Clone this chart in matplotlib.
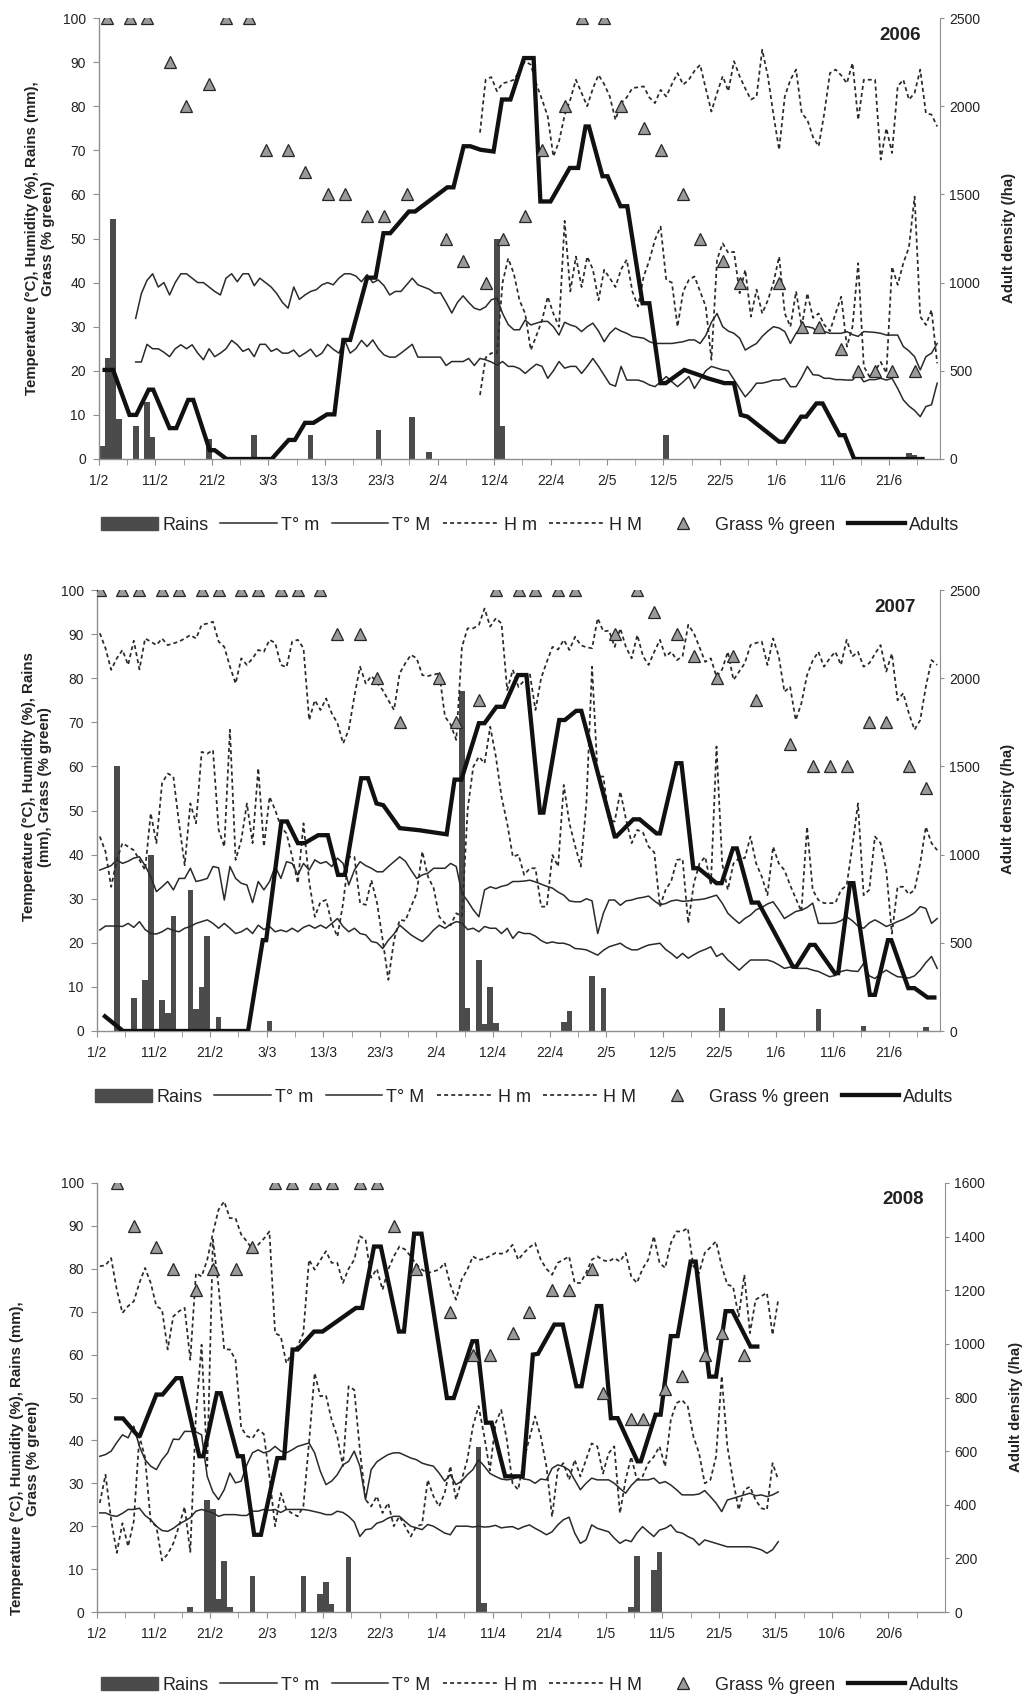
import numpy as np
import matplotlib
matplotlib.use('Agg')
import matplotlib.pyplot as plt
from matplotlib.lines import Line2D
from matplotlib.patches import Patch

plt.rcParams['font.family'] = ['Liberation Sans', 'DejaVu Sans']

# ---------------- data (days counted from 1 Feb) ----------------
XLAB_0607 = ['1/2', '11/2', '21/2', '3/3', '13/3', '23/3', '2/4', '12/4', '22/4',
             '2/5', '12/5', '22/5', '1/6', '11/6', '21/6']
XLAB_08 = ['1/2', '11/2', '21/2', '2/3', '12/3', '22/3', '1/4', '11/4', '21/4',
           '1/5', '11/5', '21/5', '31/5', '10/6', '20/6']

# 2006
rain06_day = [0, 1, 2, 3, 6, 8, 9, 19, 27, 37, 49, 55, 58, 70, 71, 100, 141, 143, 144, 145]
rain06_mm = [3, 23, 54.5, 9, 7.5, 13, 5, 4.5, 5.5, 5.5, 6.5, 9.5, 1.5, 50, 7.5, 5.4, 0.5, 1.3, 1.0, 0.3]
t06_start = 6
tmin06 = [22, 22, 26, 25, 25, 24.2, 23.2, 25, 25.9, 25,
          25.9, 24, 22.5, 25, 23.2, 24, 25, 26.9, 25.9, 24.4,
          25, 23.2, 26, 26, 24.4, 25, 24, 24, 24.7, 23.2,
          24, 24.9, 23.2, 24, 26, 24.9, 24, 27, 24, 25,
          26.9, 25.5, 27, 25, 23.6, 23.1, 23.1, 24, 25, 26,
          23.1, 23.1, 23.1, 23.1, 23.1, 21.2, 22.1, 22.1, 22.1, 22.8,
          21.2, 22.8, 22.5, 22, 21.3, 22.1, 21, 21, 20.5, 19.4,
          20.5, 21.5, 21, 18.3, 20, 22.1, 20.6, 21, 21, 19.4,
          21, 22.8, 21, 19, 17, 16.5, 21, 17.9, 17.9, 17.9,
          17.5, 16.8, 16.4, 17.5, 18.7, 17.5, 16.4, 17.5, 18.7, 16,
          18, 20, 21, 20.6, 20.2, 20, 18, 16, 14.1, 15.5,
          17.2, 17.2, 17.5, 17.9, 17.9, 18.3, 16.4, 16.4, 18.5, 21,
          19.1, 19, 18.3, 18.3, 18, 18, 17.9, 17.9, 19.4, 17.5,
          18, 18, 18.3, 17.9, 18.3, 16, 13.4, 12, 11, 9.6,
          11.9, 12.3, 17.2]
tmax06 = [31.9, 37.5, 40.5, 42, 39, 40, 37.2, 40, 42, 42,
          41, 40, 40, 39, 38, 37.2, 41, 42, 40.2, 42,
          42, 39.3, 41, 40, 39, 37.5, 35.5, 34.2, 39, 36.2,
          37.2, 38, 38.4, 39.5, 40, 39.5, 41, 42, 42, 41.5,
          40.2, 41.8, 40, 40.6, 39.3, 37.2, 38, 38, 39.5, 41,
          39.5, 39, 38.5, 37.6, 37.7, 35.5, 33.1, 35.5, 37, 35.5,
          34.2, 33.8, 34.5, 36.1, 36.5, 33, 30.5, 29.3, 29.3, 31.5,
          30.4, 30.8, 31.2, 31.2, 30, 28.1, 31, 30.4, 30, 28.9,
          30, 30.8, 29, 26.6, 28.5, 29.7, 29, 28.5, 27.8, 27.6,
          27.4, 26.6, 26.2, 26.2, 26.2, 26.2, 26.4, 26.6, 27, 27,
          26.2, 28, 31, 33, 30, 29, 28.5, 27.4, 24.7, 25.5,
          26.2, 27.8, 29, 30, 29.7, 28.9, 26.2, 28.5, 30, 30,
          29.7, 28.5, 28.9, 28.5, 28.5, 28.5, 28.9, 28.2, 27.8, 28.9,
          28.8, 28.7, 28.5, 28.1, 28.1, 28.1, 25.5, 24.5, 23.2, 20.2,
          23.2, 24, 26.2]
h06_start = 67
hmin06 = [14.5, 23, 24, 24, 40, 45.5, 42, 36, 33, 24.7,
          28, 31.5, 36.8, 33, 30, 54, 38, 45.9, 39, 45.9,
          43, 36, 42.9, 41, 39, 43, 45.2, 38, 34.6, 41.4,
          45, 49.7, 52.7, 40.6, 40, 30, 38, 40.6, 41.4, 38,
          34.6, 22.5, 45.2, 48.9, 46.7, 47, 37.6, 42.9, 32.3, 38.4,
          33, 36, 40, 45.9, 33, 30, 38, 30, 37.6, 32,
          33, 30.4, 29, 33, 36.8, 25.5, 30, 44.4, 21, 18.7,
          20, 22, 19.5, 43.6, 39.5, 44.4, 48, 59.5, 32.3, 30.4,
          33.8, 21.7]
hmax06 = [74, 86, 86.6, 83.4, 85.2, 85.5, 86, 88, 90.2, 89.4,
          85, 81.5, 77.7, 68.6, 72, 78, 81.5, 86, 83, 80,
          84, 87.1, 85, 82.2, 76.9, 80.7, 82, 84.1, 84.3, 84.5,
          82, 80.7, 83.7, 82.2, 85, 87.5, 84.9, 86, 88, 89.4,
          84, 78.8, 83, 86.8, 83.4, 90.2, 86.8, 84, 81.5, 82.2,
          92.8, 86.8, 78, 70.1, 82.2, 86, 88.3, 78.4, 76.9, 73,
          70.9, 78.4, 87.5, 88.3, 87, 85.2, 89.8, 76.9, 86, 86,
          86, 67.9, 75, 69.4, 84.5, 86, 81.5, 83, 88.3, 78.4,
          78.1, 75.4]
grass06_day = [1, 5, 8, 12, 15, 19, 22, 26, 29, 33, 36, 40, 43, 47, 50, 54, 61, 64, 68, 71,
               75, 78, 82, 85, 89, 92, 96, 99, 103, 106, 110, 113, 120, 124, 127, 131, 134, 137, 140, 144]
grass06 = [100, 100, 100, 90, 80, 85, 100, 100, 70, 70, 65, 60, 60, 55, 55, 60, 50, 45, 40, 50,
           55, 70, 80, 100, 100, 80, 75, 70, 60, 50, 45, 40, 40, 30, 30, 25, 20, 20, 20, 20]
adult06_x = [1.0, 2.5, 5.4, 6.6, 8.8, 9.6, 12.5, 13.7, 15.8, 16.7,
             19.6, 20.5, 22.6, 30.6, 33.6, 34.7, 36.5, 38.0, 40.4, 41.7,
             43.3, 44.5, 47.5, 49.0, 50.4, 51.6, 54.9, 56.0, 61.7, 62.8,
             64.6, 65.8, 67.6, 69.9, 71.4, 72.9, 75.3, 77.0, 78.2, 80.0,
             83.4, 84.9, 86.2, 86.8, 89.2, 90.1, 92.4, 93.6, 96.3, 97.5,
             99.5, 100.4, 103.7, 106.6, 107.8, 110.8, 112.5, 113.7, 114.9, 120.5,
             121.4, 124.4, 125.3, 127.1, 128.2, 131.2, 132.1, 133.8, 145.9]
adult06 = [505, 505, 250, 250, 393, 393, 175, 175, 335, 335,
           50, 50, 0, 0, 108, 108, 205, 205, 253, 253,
           675, 675, 1028, 1028, 1280, 1280, 1403, 1403, 1540, 1540,
           1773, 1773, 1753, 1743, 2038, 2038, 2273, 2273, 1460, 1460,
           1650, 1650, 1885, 1885, 1603, 1603, 1433, 1433, 883, 883,
           430, 430, 505, 473, 458, 430, 430, 250, 240, 98,
           98, 240, 240, 315, 315, 135, 135, 0, 0]

# 2007
rain07_day = [3, 6, 8, 9, 11, 12, 13, 16, 17, 18, 19, 21, 30, 64, 65, 67, 68, 69, 70,
              82, 83, 87, 89, 110, 127, 135, 146]
rain07_mm = [60, 7.5, 11.5, 40, 7, 4, 26, 32, 5, 10, 21.5, 3.2, 2.2, 77, 5.3, 16, 1.5, 10, 1.8,
             2, 4.5, 12.5, 9.7, 5.2, 5, 1.2, 0.8]
t07_start = 0
tmin07 = [22.9, 23.8, 23.8, 23.8, 23.7, 24.4, 23.5, 24.8, 23, 22.1,
          22, 22.5, 23.3, 22.8, 22.5, 23.3, 23.7, 24.4, 24.8, 25.2,
          24.4, 23.3, 24.4, 23.3, 22.1, 22.5, 23.3, 22.1, 24, 23,
          23.7, 22.5, 22.9, 22.5, 23.3, 22.5, 23.5, 24, 23.3, 24,
          23.3, 24.4, 25.5, 23.7, 22.5, 23.3, 22.1, 21.8, 20.3, 20,
          18.7, 20.6, 22, 24, 22.9, 21.8, 21, 20.3, 21.5, 22.9,
          24, 23.3, 24.2, 24.8, 24.5, 23, 23.3, 22.5, 23.7, 23.3,
          23.3, 22.1, 23.3, 21, 22.5, 22.1, 22.1, 21.5, 20.5, 19.9,
          20.2, 19.9, 19.9, 19.5, 18.7, 18.6, 18.4, 17.8, 17.2, 18.3,
          19.1, 19.5, 19.9, 19, 18.4, 18.4, 19, 19.5, 19.7, 19.9,
          18.5, 17.6, 16.5, 17.6, 16.5, 17.3, 18, 18.5, 19.1, 16.9,
          17.6, 16.1, 15, 13.8, 15, 16.1, 16.1, 16.1, 16.1, 15.7,
          15, 14.2, 14.5, 14.2, 14.2, 14.2, 13.8, 13.5, 12.9, 12.3,
          12.6, 13.5, 13.8, 13.6, 13.5, 15.3, 12.5, 11.9, 13, 13.8,
          13, 12.3, 12.2, 12, 12.5, 13.8, 15.5, 16.9, 14.2]
tmax07 = [36.5, 37, 37.5, 38.8, 38, 38.5, 39.2, 39.5, 37.5, 35,
          31.6, 32.7, 33.9, 32, 34.6, 34.6, 36.9, 33.9, 34.2, 34.6,
          37.3, 37, 29.7, 37.3, 34.6, 33.5, 33.1, 29.1, 33.9, 32,
          33.9, 37.3, 34.6, 38.4, 38, 35.4, 38, 36.5, 38.8, 38,
          38.4, 37.3, 39.2, 38, 33.1, 36.5, 38.4, 37.5, 36.9, 36.1,
          36.1, 37.3, 38.4, 39.5, 38.5, 36.5, 34.6, 35.4, 35.8, 36.9,
          36.9, 36.9, 38, 37.3, 31.2, 29.5, 27.5, 25.9, 32, 32.7,
          32.3, 32.8, 33.1, 33.9, 33.9, 34, 34.2, 33.8, 33.3, 32.8,
          32.4, 31.5, 30.8, 29.5, 29.3, 29.3, 30, 29.5, 22.1, 26.7,
          29.7, 29.7, 28.5, 29.5, 29.7, 30.1, 30.3, 30.6, 29.5, 28.6,
          28.9, 29.5, 29.7, 29.4, 29.5, 29.7, 29.8, 30, 30.4, 30.8,
          29, 26.7, 25.5, 24.4, 25.5, 26.3, 27.5, 28, 28.8, 29.3,
          27.5, 25.5, 26.3, 27.1, 27.4, 28, 29, 24.4, 24.4, 24.4,
          24.5, 25, 25.9, 25, 23.8, 23.3, 24.5, 25.2, 24.5, 23.7,
          24.2, 24.8, 25.3, 26, 26.8, 28.2, 27.8, 24.4, 25.5]
h07_start = 0
hmin07 = [44.1, 40.7, 32.7, 38.8, 42.6, 41.8, 41, 38.8, 36.5, 49.4,
          42.6, 56.2, 58.4, 57.7, 47.1, 37.6, 51.6, 47.1, 63.3, 62.9,
          63.7, 45.6, 41.8, 68.3, 38.8, 43.3, 51.6, 42.6, 59.6, 41.8,
          53.1, 50.1, 46.3, 44.8, 39.5, 33.5, 47.1, 33.9, 25.9, 29.3,
          29.7, 24.4, 21.4, 29, 39.5, 39.5, 29, 28.6, 34.2, 29,
          20.6, 11.6, 20.6, 25.2, 25, 28.2, 31.2, 40.7, 35, 32.4,
          25.9, 24.4, 24, 26.7, 26, 50.1, 59.9, 62.2, 60.7, 69,
          62.2, 53.1, 47.1, 39.5, 40, 35.4, 36.9, 36.9, 28.2, 28.2,
          39.9, 37.3, 55.8, 47.1, 42, 37.3, 51.6, 82.6, 57.7, 57.7,
          47.8, 47.5, 54.3, 48, 42.6, 45.6, 45, 41.8, 40.5, 28.2,
          32, 34, 38.8, 39, 24.4, 33.5, 38, 39.5, 33, 64.5,
          38, 32, 38, 39.2, 39.2, 44.1, 38, 35, 30.8, 41.8,
          38, 36.5, 33.1, 30.1, 27.1, 46.3, 32, 29.7, 29, 29,
          29, 32, 33, 41.8, 51.6, 30.8, 32, 44.1, 42.6, 36.5,
          22.1, 32.7, 32.7, 31, 32, 38, 46.3, 42.6, 41]
hmax07 = [90.2, 86.8, 81.9, 84.5, 86.4, 83, 88.5, 82, 89, 88.3,
          87.5, 89, 87.5, 87.9, 88.3, 89, 89.8, 89, 92.1, 92.4,
          92.8, 88.3, 87.1, 82.6, 78.8, 84.5, 83, 84.5, 86.4, 86,
          88.7, 88, 83, 82.5, 88.3, 88.7, 86.8, 70.5, 75, 72.8,
          75.4, 72, 69.8, 65.2, 68.3, 76, 82.6, 78.8, 80.5, 79,
          77.3, 75, 72.8, 81.1, 83.4, 85.3, 84.5, 80.7, 80.5, 80.8,
          81.1, 71.3, 69.5, 66, 87.1, 91.3, 91.3, 92.1, 95.8, 91.7,
          93.6, 92.4, 77.3, 81.9, 78, 79.5, 81, 72.8, 80, 83.7,
          87.1, 86.5, 88.7, 86.4, 89.4, 87.5, 87, 86.8, 93.6, 90.6,
          90.8, 87.1, 91.3, 87, 84.5, 89.8, 85, 83, 86, 88.7,
          84.9, 86, 84.1, 85, 92.1, 90.2, 87, 83.7, 84.5, 80.3,
          82, 86, 79.6, 81.5, 83.4, 87.5, 88, 88.3, 83, 89,
          85, 76.9, 78.1, 70.5, 74.3, 80.7, 84, 86, 82.6, 84.5,
          86, 83, 88.7, 84.9, 86, 82.6, 83.4, 85.5, 87.5, 81.5,
          85.6, 75, 76.6, 72, 68.3, 70.5, 78.1, 84.1, 83]
grass07_day = [0, 4, 7, 11, 14, 18, 21, 25, 28, 32, 35, 39,
               42, 46, 49, 53, 60, 63, 67, 70, 74, 77, 81, 84, 91, 95, 98, 102,
               105, 109, 112, 116, 122, 126, 129, 132, 136, 139, 143, 146]
grass07 = [100, 100, 100, 100, 100, 100, 100, 100, 100, 100, 100, 100,
           90, 90, 80, 70, 80, 70, 75, 100, 100, 100, 100, 100, 90, 100, 95, 90,
           85, 80, 85, 75, 65, 60, 60, 60, 70, 70, 60, 55]
adult07_x = [1.4, 4.6, 26.7, 29.3, 29.9, 32.6, 33.6, 35.5, 36.7, 39.1,
             40.8, 42.6, 43.8, 46.7, 47.9, 49.4, 50.6, 53.5, 57.0, 61.8,
             63.2, 64.4, 67.5, 68.5, 70.6, 71.9, 74.4, 75.9, 78.3, 78.9,
             81.7, 82.7, 84.7, 85.6, 91.5, 91.8, 94.8, 95.9, 98.9, 99.5,
             102.4, 103.3, 105.4, 106.3, 109.5, 110.4, 112.4, 113.1, 115.7, 116.9,
             123.0, 123.6, 126.0, 126.9, 130.4, 131.0, 133.1, 133.7, 136.6, 137.5,
             139.8, 140.4, 143.4, 144.5, 146.8, 148.0]
adult07 = [83, 0, 0, 515, 515, 1188, 1188, 1065, 1065, 1110,
           1110, 885, 885, 1433, 1433, 1290, 1280, 1150, 1138, 1115,
           1425, 1425, 1745, 1745, 1838, 1838, 2018, 2018, 1238, 1238,
           1763, 1763, 1815, 1815, 1103, 1103, 1200, 1200, 1120, 1120,
           1518, 1518, 923, 923, 838, 838, 1035, 1035, 728, 728,
           365, 365, 488, 488, 328, 328, 838, 838, 205, 205,
           515, 515, 243, 243, 190, 190]

# 2008
rain08_day = [16, 19, 20, 21, 22, 23, 27, 36, 39, 40, 41, 44, 67, 68, 94, 95, 98, 99]
rain08_mm = [1.2, 26, 24, 3, 12, 1.2, 8.3, 8.3, 4.3, 7, 1.8, 12.8, 38.5, 2, 1.2, 13, 9.7, 14.1]
t08_start = 0
tmin08 = [23.1, 23.1, 22.5, 22.3, 23, 23.9, 23.9, 24.2, 22.5, 21.5,
          20, 19, 18.8, 19.5, 20.5, 21.2, 22, 23.5, 23.9, 23.5,
          23.1, 22.3, 22.7, 22.7, 22.7, 22.5, 22.5, 23.5, 23.5, 23.9,
          23.7, 23.9, 23.2, 23.9, 23.9, 23.9, 23.9, 23.7, 23.4, 23.1,
          22.7, 22.7, 23.5, 23.2, 22.3, 21, 17.6, 19.2, 19.4, 20.7,
          21.1, 21.9, 22.3, 22.3, 21.1, 20, 19.6, 19.2, 20.4, 20,
          19.2, 18.4, 18, 20, 20, 20, 19.8, 20, 19.8, 19.9,
          20.2, 19.6, 19.8, 19.9, 19.3, 19.9, 20.3, 19.5, 18.8, 18,
          18.7, 20.3, 21.5, 22.1, 18.4, 16, 16.8, 20.3, 19.5, 19.1,
          18.7, 17.2, 16, 16.8, 16.4, 18.4, 19.9, 18.7, 17.6, 19.1,
          19.5, 20.3, 18.7, 18.4, 17.6, 17, 15.6, 16.8, 16.4, 16,
          15.6, 15.2, 15.2, 15.2, 15.2, 15.2, 14.9, 14.5, 13.7, 14.5, 16.4]
tmax08 = [36.3, 36.7, 37.5, 39.5, 41.3, 40.6, 43.3, 38.6, 35.5, 34,
          33.2, 35.5, 37.1, 40.3, 40.2, 42.1, 42.1, 42, 41.3, 31.6,
          28, 26.2, 28.5, 32.4, 30.1, 30.5, 34.3, 37.1, 37.8, 37.1,
          37.5, 38.6, 37.5, 37.1, 37.8, 38.6, 39, 39.4, 37.1, 32.8,
          29.7, 30.5, 32, 34.3, 35.1, 37.5, 34, 26.2, 33.2, 35,
          35.9, 36.7, 37.1, 37.1, 36.5, 35.9, 35.5, 34.7, 34.3, 34,
          32.4, 30.5, 32, 29.7, 30.5, 32, 33.2, 35.5, 34, 32.3,
          31.6, 31, 30.8, 31, 31.5, 31, 30.8, 30, 31, 30.8,
          33.5, 34.3, 33.9, 33.1, 30.8, 28.5, 30, 31.2, 30.8, 30.8,
          30.8, 30, 28.8, 27.7, 29.5, 30.8, 30.8, 30.8, 31.2, 30,
          30.4, 29.6, 28.5, 27.3, 27.3, 27.3, 27.5, 28.3, 26.9, 25.4,
          23.4, 26.1, 26.5, 26.9, 27.3, 27.7, 27.1, 27.3, 26.9, 27.3, 28]
h08_start = 0
hmin08 = [25.4, 32, 21.5, 13.8, 20.7, 15.3, 21.1, 41, 36, 21,
          20, 12, 13.5, 16, 20, 24.5, 14, 46, 62.3, 34,
          86.8, 75.9, 61.2, 61.2, 58.8, 43, 41, 40.5, 42.5, 41.5,
          31.6, 20, 27.7, 23.9, 23, 22.3, 24.6, 39.4, 55.7, 50.3,
          50.5, 44.8, 40.9, 34, 52.6, 51.8, 37.8, 26.2, 24.6, 27,
          23.1, 25.4, 20, 22.3, 20, 17.6, 20, 20.4, 30.8, 27,
          24.6, 27.7, 34, 26.2, 30.8, 35.5, 43.3, 48, 41, 33,
          44, 47.1, 40.1, 30, 28.5, 35.5, 40.5, 45.6, 40.9, 33.9,
          22.2, 33.1, 34.7, 30.8, 35.5, 31.6, 35.5, 39.3, 38.6, 32.3,
          37, 38.6, 23, 30.8, 36.2, 30.8, 31.6, 34.7, 36.2, 38.6,
          33.9, 44.8, 48.7, 49.4, 47.9, 40.9, 37, 30, 30.8, 36.2,
          55, 38.6, 30.8, 23.8, 28.5, 29.2, 26.1, 24.2, 23.8, 34.7, 30.8]
hmax08 = [80.6, 80.8, 82.5, 75.1, 69.7, 71.3, 72.4, 76.7, 80.2, 76.7,
          71.3, 70.5, 61.2, 68.9, 70.1, 70.9, 58.8, 79, 78.2, 82.1,
          88.3, 93.8, 95.7, 91.8, 91.8, 88, 86.4, 84.5, 85.6, 87,
          88.7, 65, 64.3, 58, 60.4, 62, 65, 82.1, 79.8, 82,
          84.1, 81.4, 81.4, 76.7, 80, 82.1, 87.6, 86.8, 77.9, 80,
          75.1, 79.8, 82.9, 85.2, 84.5, 82.9, 81, 79.8, 79, 79.4,
          79.8, 81.4, 76.3, 72.8, 77.5, 79.8, 82.9, 82.1, 82.3, 83,
          83.7, 83.5, 84, 85.6, 82.1, 83.7, 85, 86, 82.1, 80,
          78.6, 81.4, 82.1, 82.9, 76.7, 76.7, 79, 82.1, 82.9, 82,
          81.7, 82.5, 81.7, 83.7, 78.2, 76.7, 80, 82.1, 87.6, 81.4,
          80.2, 86, 88.7, 88.7, 89.5, 80.6, 79, 83.7, 85, 86.4,
          80.6, 76.3, 75.9, 68.9, 78.6, 65, 72.8, 73.6, 74.4, 64.6, 72.8]
grass08_day = [3, 6, 10, 13, 17, 20, 24, 27, 31, 34, 38, 41, 46, 49, 52, 56, 62, 66, 69, 73,
               76, 80, 83, 87, 89, 94, 96, 100, 103, 107, 110, 114]
grass08 = [100, 90, 85, 80, 75, 80, 80, 85, 100, 100, 100, 100, 100, 100, 90, 80, 70, 60, 60, 65,
           70, 75, 75, 80, 51, 45, 45, 52, 55, 60, 65, 60]
adult08_x = [3.4, 4.6, 7.2, 7.6, 10.5, 11.6, 14.0, 14.9, 18.1, 18.8,
             21.2, 21.9, 24.9, 25.8, 27.8, 29.0, 31.9, 33.1, 34.6, 35.5,
             38.4, 39.9, 45.8, 46.9, 49.0, 50.2, 53.4, 54.3, 56.1, 57.4,
             61.9, 63.1, 66.4, 67.2, 68.8, 69.8, 72.2, 75.3, 77.1, 78.0,
             80.9, 82.4, 84.8, 85.7, 88.4, 89.2, 90.9, 92.1, 95.6, 96.2,
             98.8, 99.7, 101.5, 102.7, 105.0, 105.9, 108.3, 109.5, 111.2, 112.4,
             115.6, 116.8]
adult08 = [722, 722, 658, 658, 811, 811, 872, 872, 581, 581,
           816, 816, 581, 581, 288, 288, 574, 574, 979, 979,
           1046, 1046, 1134, 1134, 1363, 1363, 1046, 1046, 1411, 1411,
           798, 798, 1010, 1010, 706, 706, 506, 506, 960, 963,
           1072, 1072, 842, 842, 1141, 1141, 723, 723, 562, 562,
           736, 736, 1029, 1029, 1307, 1307, 878, 878, 1122, 1122,
           990, 990]

# ---------------- style ----------------
W, H = 1036, 1696
BAR = '#4b4b4b'
LINE = '#2a2a2a'
AXC = '#8f8f8f'
TRI = '#9a9a9a'
HDASH = (0, (2.3, 1.8))
TLW = 1.1
HLW = 1.25

YLAB1 = 'Temperature (\u00b0C), Humidity (%), Rains (mm),\nGrass (% green)'
YLAB2 = 'Temperature (\u00b0C), Humidity (%), Rains\n(mm), Grass (% green)'

fig = plt.figure(figsize=(W / 100, H / 100), dpi=100)


def fx(px):
    return px / W


def fy(py):
    return 1 - py / H


def panel(box, xmax, xlabels, rain_d, rain_v, t0, tmin, tmax, h0, hmin, hmax,
          g_d, g_v, a_x, a_y, rmax, rstep, year, year_xy, ylab, ylab_xy, rlab_xy, leg_xy):
    l, t, r, b = box
    ax = fig.add_axes([fx(l), fy(b), (r - l) / W, (b - t) / H])
    ax.bar(rain_d, rain_v, width=1.0, align='edge', color=BAR, linewidth=0, zorder=1)
    ax.plot(np.arange(t0, t0 + len(tmin)) + 0.5, tmin, color=LINE, lw=TLW, zorder=2)
    ax.plot(np.arange(t0, t0 + len(tmax)) + 0.5, tmax, color=LINE, lw=TLW, zorder=2)
    ax.plot(np.arange(h0, h0 + len(hmin)) + 0.5, hmin, color=LINE, lw=HLW, ls=HDASH, zorder=2)
    ax.plot(np.arange(h0, h0 + len(hmax)) + 0.5, hmax, color=LINE, lw=HLW, ls=HDASH, zorder=2)
    ax.set_xlim(0, xmax)
    ax.set_ylim(0, 100)
    ax.set_yticks(range(0, 101, 10))
    ax.set_xticks(range(0, 141, 10))
    ax.set_xticklabels(xlabels)
    ax.set_xticks(range(5, 150, 10), minor=True)
    ax.tick_params(axis='x', which='both', direction='out', length=4, color=AXC,
                   labelsize=10, labelcolor='#222222', pad=7)
    ax.tick_params(axis='y', direction='out', length=4, color=AXC,
                   labelsize=10, labelcolor='#222222', pad=5.5)
    for s in ('top', 'right'):
        ax.spines[s].set_visible(False)
    for s in ('left', 'bottom'):
        ax.spines[s].set_color(AXC)
        ax.spines[s].set_linewidth(1.0)

    ax2 = ax.twinx()
    ax2.set_ylim(0, rmax)
    ax2.set_yticks(np.arange(0, rmax + 1, rstep))
    ax2.plot(a_x, a_y, color='#111111', lw=3.1, solid_joinstyle='miter', zorder=3)
    ax2.plot(np.array(g_d) + 0.5, g_v, ls='none', marker='^', ms=9, mfc=TRI, mec='#262626',
             mew=0.9, transform=ax.transData, zorder=4)
    ax2.set_xlim(0, xmax)
    ax2.tick_params(axis='y', direction='out', length=3, color=AXC,
                    labelsize=10, labelcolor='#222222', pad=3.5)
    for s in ('top', 'left', 'bottom'):
        ax2.spines[s].set_visible(False)
    ax2.spines['right'].set_color(AXC)

    fig.text(fx(year_xy[0]), fy(year_xy[1]), year, ha='center', va='center',
             fontsize=13.5, fontweight='bold', color='#222222')
    fig.text(fx(ylab_xy[0]), fy(ylab_xy[1]), ylab, rotation=90, ha='center', va='center',
             fontsize=10.8, fontweight='bold', color='#222222', multialignment='center')
    fig.text(fx(rlab_xy[0]), fy(rlab_xy[1]), 'Adult density (/ha)', rotation=90,
             ha='center', va='center', fontsize=10.8, fontweight='bold', color='#222222')

    handles = [Patch(facecolor=BAR, edgecolor=BAR),
               Line2D([], [], color=LINE, lw=TLW),
               Line2D([], [], color=LINE, lw=TLW),
               Line2D([], [], color=LINE, lw=HLW, ls=HDASH),
               Line2D([], [], color=LINE, lw=HLW, ls=HDASH),
               Line2D([], [], ls='none', marker='^', ms=8, mfc=TRI, mec='#262626', mew=0.9),
               Line2D([], [], color='#111111', lw=3.1)]
    names = ['Rains', 'T\u00b0 m', 'T\u00b0 M', 'H m', 'H M', 'Grass % green', 'Adults']
    fig.legend(handles, names, loc='center', bbox_to_anchor=(fx(leg_xy[0]), fy(leg_xy[1])),
               ncol=7, frameon=False, fontsize=13, handlelength=3.15, handletextpad=0.22,
               columnspacing=0.67, handleheight=0.7, borderpad=0, labelcolor='#222222')


panel((99, 18, 940, 459), 149, XLAB_0607, rain06_day, rain06_mm, t06_start, tmin06, tmax06,
      h06_start, hmin06, hmax06, grass06_day, grass06, adult06_x, adult06, 2500, 500,
      '2006', (900, 35), YLAB1, (40, 238), (1009, 238), (530, 525))
panel((97, 590, 940, 1031), 149, XLAB_0607, rain07_day, rain07_mm, t07_start, tmin07, tmax07,
      h07_start, hmin07, hmax07, grass07_day, grass07, adult07_x, adult07, 2500, 500,
      '2007', (895, 608), YLAB2, (37, 787), (1008, 809), (524, 1097))
panel((97, 1183, 945, 1612), 150, XLAB_08, rain08_day, rain08_mm, t08_start, tmin08, tmax08,
      h08_start, hmin08, hmax08, grass08_day, grass08, adult08_x, adult08, 1600, 200,
      '2008', (903, 1200), YLAB1, (25, 1458), (1016, 1407), (530, 1685))

fig.savefig('out.png', dpi=100, facecolor='white')
